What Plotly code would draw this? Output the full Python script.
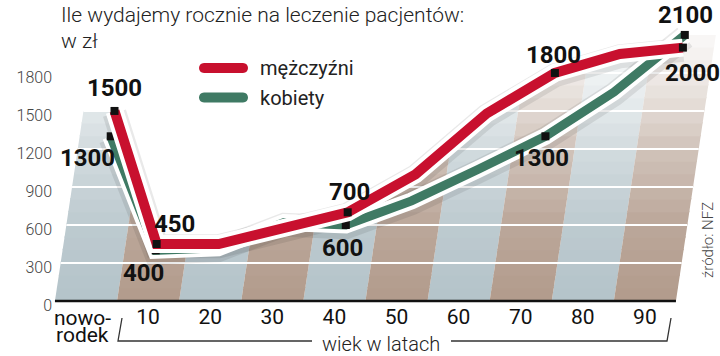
import plotly.graph_objects as go

# ---------------- data ----------------
categories = ["nowo-rodek", "10", "20", "30", "40", "50", "60", "70", "80", "90"]
men_values = [1500, 450, 450, 580, 700, 1000, 1480, 1800, 1950, 2000]
women_values = [1300, 400, 420, 620, 600, 790, 1040, 1300, 1650, 2100]
labelled_points = [0, 1, 4, 7, 9]
y_tick_values = [0, 300, 600, 900, 1200, 1500, 1800]
grid_levels = [300, 600, 900, 1200, 1500, 1800]
series_names = ["mężczyźni", "kobiety"]
title_lines = ["Ile wydajemy rocznie na leczenie pacjentów:", "w zł"]
axis_title = "wiek w latach"
source_text = "źródło: NFZ"

# ---------------- style ----------------
W, H = 720, 356
ML, MR, MT = 53, 0, 0
PLOT_BOTTOM_PX = 302
ZERO_PX = 301
Y_PX_PER_UNIT = 0.1267
X_PX_PER_CAT = 62.1
FIRST_CAT_PX = 86
SKEW = 0.15  # horizontal px shift per vertical px (slanted columns)
K = Y_PX_PER_UNIT * SKEW / X_PX_PER_CAT
TOP_VALUE = 2450
SLICE = 100
FADE = [(0, 0.0), (600, 0.12), (1200, 0.4), (1600, 0.68), (2000, 0.9), (2450, 1.0)]

RED = "#c8102e"
GREEN = "#3f7a64"
BLUE_BAND = (180, 195, 201)
BROWN_BAND = (178, 155, 140)
FONT = "Roboto"

x_range = [(ML - FIRST_CAT_PX) / X_PX_PER_CAT, (W - MR - FIRST_CAT_PX) / X_PX_PER_CAT]
y_range = [-(PLOT_BOTTOM_PX - ZERO_PX) / Y_PX_PER_UNIT, (ZERO_PX - MT) / Y_PX_PER_UNIT]


def sx(i, v):
    return i + v * K


def xp(px):
    return (px - ML) / (W - MR - ML)


def yp(py):
    return (PLOT_BOTTOM_PX - py) / (PLOT_BOTTOM_PX - MT)


def white_mix(v):
    for (v0, m0), (v1, m1) in zip(FADE[:-1], FADE[1:]):
        if v0 <= v <= v1:
            return m0 + (m1 - m0) * (v - v0) / (v1 - v0)
    return 1.0


def faded(rgb, v):
    m = white_mix(v)
    c = [round(ch + (255 - ch) * m) for ch in rgb]
    return f"rgb({c[0]},{c[1]},{c[2]})"


fig = go.Figure()
n = len(categories)

# slanted background columns, faded towards white in thin horizontal slices
v0 = 0
while v0 < TOP_VALUE:
    v1 = min(v0 + SLICE, TOP_VALUE)
    vt = min(v1 + 12, TOP_VALUE)  # small overlap hides seams
    vm = (v0 + v1) / 2
    for parity, rgb in ((0, BLUE_BAND), (1, BROWN_BAND)):
        xs, ys = [], []
        for j in range(parity, n, 2):
            xs += [sx(j - 0.5, v0), sx(j + 0.5, v0), sx(j + 0.5, vt), sx(j - 0.5, vt),
                   sx(j - 0.5, v0), None]
            ys += [v0, v0, vt, vt, v0, None]
        fig.add_trace(go.Scatter(x=xs, y=ys, mode="lines", line=dict(width=0),
                                 fill="toself", fillcolor=faded(rgb, vm),
                                 hoverinfo="skip", showlegend=False))
    v0 = v1

# grid lines (white, slanted region)
gx, gy = [], []
for v in grid_levels:
    gx += [sx(-0.5, v), sx(n - 0.5, v), None]
    gy += [v, v, None]
fig.add_trace(go.Scatter(x=gx, y=gy, mode="lines", line=dict(color="white", width=2),
                         hoverinfo="skip", showlegend=False))

# white mask above upper envelope
env = [max(m, w) for m, w in zip(men_values, women_values)]
mx = [-2, -2] + [sx(i, v) for i, v in enumerate(env)] + [n + 2, n + 2]
my = [TOP_VALUE + 200, env[0]] + env + [env[-1], TOP_VALUE + 200]
fig.add_trace(go.Scatter(x=mx, y=my, mode="lines", line=dict(width=0), fill="toself",
                         fillcolor="white", hoverinfo="skip", showlegend=False))

SHADOW_DROP = 18
for vals in (women_values, men_values):
    fig.add_trace(go.Scatter(
        x=[sx(i, v) for i, v in enumerate(vals)], y=[v - SHADOW_DROP for v in vals],
        mode="lines", line=dict(color="rgba(40,40,40,0.10)", width=24),
        hoverinfo="skip", showlegend=False))

for vals, col, lw in ((women_values, GREEN, 9), (men_values, RED, 10)):
    xs = [sx(i, v) for i, v in enumerate(vals)]
    fig.add_trace(go.Scatter(x=xs, y=vals, mode="lines",
                             line=dict(color="white", width=lw + 8),
                             hoverinfo="skip", showlegend=False))
    fig.add_trace(go.Scatter(x=xs, y=vals, mode="lines",
                             line=dict(color=col, width=lw),
                             hoverinfo="skip", showlegend=False))
    fig.add_trace(go.Scatter(x=[xs[i] for i in labelled_points],
                             y=[vals[i] for i in labelled_points],
                             mode="markers",
                             marker=dict(symbol="square", size=8, color="#111111"),
                             hoverinfo="skip", showlegend=False))

# value labels
label_offsets = {
    ("m", 0): (0, 23), ("w", 0): (-23, -22),
    ("m", 1): (18, 20), ("w", 1): (-12, -23),
    ("m", 4): (2, 20), ("w", 4): (-3, -23),
    ("m", 7): (-1, 18), ("w", 7): (-4, -22),
    ("m", 9): (10, -25), ("w", 9): (1, 20),
}
annotations = []
for key, vals in (("m", men_values), ("w", women_values)):
    for i in labelled_points:
        dx, dy = label_offsets[(key, i)]
        annotations.append(dict(
            x=sx(i, vals[i]), y=vals[i], xref="x", yref="y",
            text=str(vals[i]), showarrow=False, xshift=dx, yshift=dy,
            xanchor="center", yanchor="middle",
            font=dict(family=FONT, size=24, color="#111111", weight=700)))

# title
for line_text, ypx in zip(title_lines, (15, 41)):
    annotations.append(dict(x=xp(59), y=yp(ypx), xref="paper", yref="paper", text=line_text,
                            showarrow=False, xanchor="left", yanchor="middle",
                            font=dict(family=FONT, size=21, color="#222222", weight=300)))

# legend
shapes = []


def rounded_bar(x0, x1, yc, h, color):
    r = h / 2.0
    c = 4.0 * r / 3.0
    pts = [
        ("M", [(x0 + r, yc - r)]),
        ("L", [(x1 - r, yc - r)]),
        ("C", [(x1 - r + c, yc - r), (x1 - r + c, yc + r), (x1 - r, yc + r)]),
        ("L", [(x0 + r, yc + r)]),
        ("C", [(x0 + r - c, yc + r), (x0 + r - c, yc - r), (x0 + r, yc - r)]),
    ]
    path = ""
    for cmd, ps in pts:
        path += cmd + " " + " ".join(f"{xp(a):.5f},{yp(b):.5f}" for a, b in ps) + " "
    path += "Z"
    return dict(type="path", xref="paper", yref="paper", path=path,
                fillcolor=color, line=dict(width=0), layer="above")


for name, col, yc in ((series_names[0], RED, 68), (series_names[1], GREEN, 97.5)):
    shapes.append(rounded_bar(199, 248, yc, 10, col))
    annotations.append(dict(x=xp(258), y=yp(yc), xref="paper", yref="paper", text=name,
                            showarrow=False, xanchor="left", yanchor="middle",
                            font=dict(family=FONT, size=20, color="#222222")))

# x axis line
shapes.append(dict(type="line", xref="x", yref="paper", x0=-0.5, x1=n - 0.5,
                   y0=yp(ZERO_PX), y1=yp(ZERO_PX),
                   line=dict(color="#111111", width=2.5), layer="above"))

# newborn label (two tight lines)
parts = categories[0].split("-")
for t, ypx in ((parts[0] + "-", 318), (parts[1], 335)):
    annotations.append(dict(x=0, y=yp(ypx), xref="x", yref="paper", text=t,
                            showarrow=False, xshift=-4, xanchor="center", yanchor="middle",
                            font=dict(family=FONT, size=21, color="#111111")))

# axis title with bracket
annotations.append(dict(x=xp(381), y=yp(344), xref="paper", yref="paper", text=axis_title,
                        showarrow=False, xanchor="center", yanchor="middle",
                        font=dict(family=FONT, size=20, color="#222222", weight=300)))


def pline(points):
    path = "M " + " L ".join(f"{xp(a):.5f},{yp(b):.5f}" for a, b in points)
    return dict(type="path", xref="paper", yref="paper", path=path,
                line=dict(color="#333333", width=1.3))


shapes.append(pline([(122, 318), (118, 341), (312, 341)]))
shapes.append(pline([(451, 341), (667, 341), (671, 318)]))

# source
annotations.append(dict(x=xp(708), y=yp(240), xref="paper", yref="paper", text=source_text,
                        showarrow=False, textangle=-90, xanchor="center", yanchor="middle",
                        font=dict(family=FONT, size=15, color="#444444", weight=300)))

fig.update_layout(
    width=W, height=H,
    margin=dict(l=ML, r=MR, t=MT, b=H - PLOT_BOTTOM_PX, pad=0),
    paper_bgcolor="white", plot_bgcolor="white",
    showlegend=False,
    annotations=annotations, shapes=shapes,
    xaxis=dict(range=x_range, showgrid=False, zeroline=False, showline=False,
               tickmode="array", tickvals=list(range(1, n)), ticktext=categories[1:],
               tickfont=dict(family=FONT, size=21, color="#111111"), ticks=""),
    yaxis=dict(range=y_range, showgrid=False, zeroline=False, showline=False,
               tickmode="array", tickvals=y_tick_values,
               ticktext=[str(v) for v in y_tick_values],
               tickfont=dict(family=FONT, size=16, color="#444444", weight=300),
               ticks="", ticklabelshift=4),
)

fig.write_html("out.html", config={"displayModeBar": False},
               post_script="document.body.style.margin='0';")
